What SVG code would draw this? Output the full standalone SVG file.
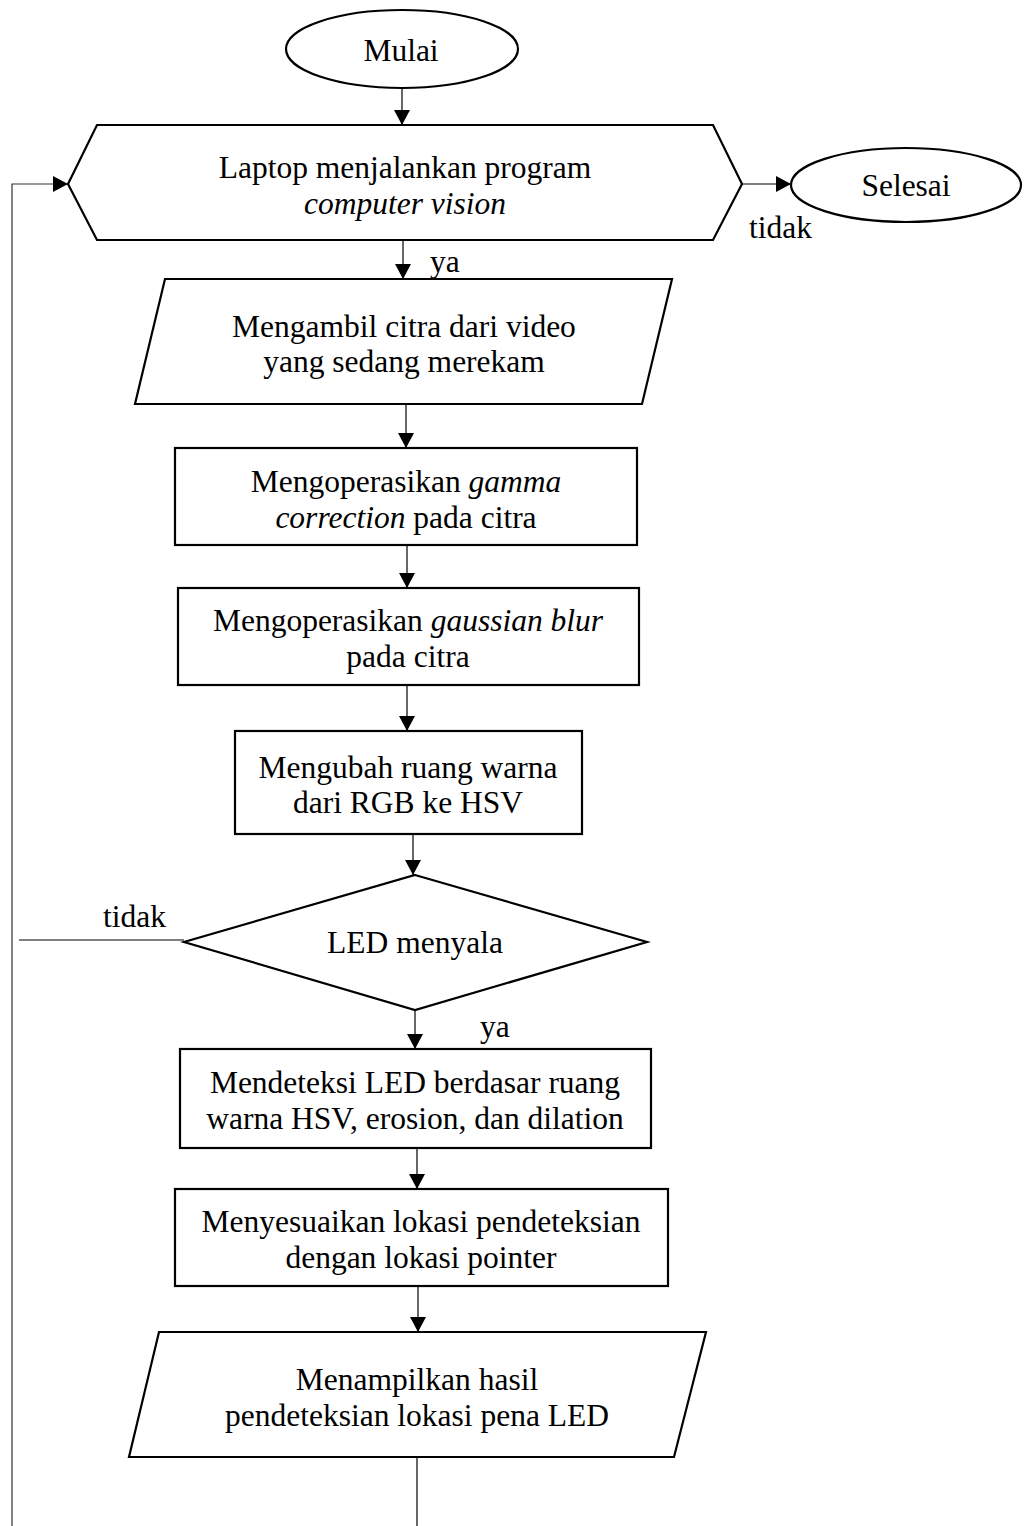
<svg xmlns="http://www.w3.org/2000/svg" width="1027" height="1526" viewBox="0 0 1027 1526">
  <style>
    .shape { fill: #ffffff; stroke: #000000; stroke-width: 2.2; stroke-linejoin: miter; }
    .link { fill: none; stroke: #000000; stroke-width: 1.2; }
    .loop { fill: none; stroke: #333333; stroke-width: 1.2; }
    text { font-family: "Liberation Serif", "Times New Roman", serif; font-size: 31.5px; fill: #000000; }
    .c { text-anchor: middle; }
    .i { font-style: italic; }
  </style>
  <defs>
    <marker id="arrow" viewBox="0 0 15 16" refX="15" refY="8" markerWidth="15" markerHeight="16" markerUnits="userSpaceOnUse" orient="auto">
      <path d="M0,0 L15,8 L0,16 Z" fill="#000000"/>
    </marker>
  </defs>

  <rect x="0" y="0" width="1027" height="1526" fill="#ffffff"/>

  <!-- connectors -->
  <g id="connectors">
    <line class="link" x1="402" y1="88" x2="402" y2="125" marker-end="url(#arrow)"/>
    <line class="link" x1="742" y1="184" x2="791" y2="184" marker-end="url(#arrow)"/>
    <line class="link" x1="403" y1="240" x2="403" y2="279" marker-end="url(#arrow)"/>
    <line class="link" x1="406" y1="404" x2="406" y2="448" marker-end="url(#arrow)"/>
    <line class="link" x1="407" y1="545" x2="407" y2="588" marker-end="url(#arrow)"/>
    <line class="link" x1="407" y1="685" x2="407" y2="731" marker-end="url(#arrow)"/>
    <line class="link" x1="413" y1="834" x2="413" y2="875" marker-end="url(#arrow)"/>
    <line class="link" x1="415" y1="1010" x2="415" y2="1049" marker-end="url(#arrow)"/>
    <line class="link" x1="417" y1="1148" x2="417" y2="1189" marker-end="url(#arrow)"/>
    <line class="link" x1="418" y1="1286" x2="418" y2="1332" marker-end="url(#arrow)"/>
    <line class="link" x1="417" y1="1457" x2="417" y2="1526"/>
    <!-- "tidak" branch of the decision back to the loop -->
    <line class="link" x1="184" y1="940" x2="19" y2="940"/>
    <polyline class="loop" points="12,1526 12,184 68,184" marker-end="url(#arrow)"/>
    <text x="749" y="238">tidak</text>
    <text x="430" y="272">ya</text>
    <text x="103" y="927">tidak</text>
    <text x="480" y="1037">ya</text>
  </g>

  <g id="mulai">
    <ellipse class="shape" cx="402" cy="49" rx="116" ry="39"/>
    <text class="c" x="401" y="61">Mulai</text>
  </g>

  <g id="laptop">
    <polygon class="shape" points="97,125 713,125 742,184 713,240 97,240 68,184"/>
    <text class="c" x="405" y="178">Laptop menjalankan program</text>
    <text class="c i" x="405" y="214">computer vision</text>
  </g>

  <g id="selesai">
    <ellipse class="shape" cx="906" cy="185" rx="115" ry="37"/>
    <text class="c" x="906" y="196">Selesai</text>
  </g>

  <g id="ambil-citra">
    <polygon class="shape" points="165,279 672,279 642,404 135,404"/>
    <text class="c" x="404" y="337">Mengambil citra dari video</text>
    <text class="c" x="404" y="372">yang sedang merekam</text>
  </g>

  <g id="gamma">
    <rect class="shape" x="175" y="448" width="462" height="97"/>
    <text class="c" x="406" y="492">Mengoperasikan <tspan class="i">gamma</tspan></text>
    <text class="c" x="406" y="528"><tspan class="i">correction</tspan> pada citra</text>
  </g>

  <g id="gaussian">
    <rect class="shape" x="178" y="588" width="461" height="97"/>
    <text class="c" x="408" y="631">Mengoperasikan <tspan class="i">gaussian blur</tspan></text>
    <text class="c" x="408" y="667">pada citra</text>
  </g>

  <g id="hsv">
    <rect class="shape" x="235" y="731" width="347" height="103"/>
    <text class="c" x="408" y="778">Mengubah ruang warna</text>
    <text class="c" x="408" y="813">dari RGB ke HSV</text>
  </g>

  <g id="led-menyala">
    <polygon class="shape" points="415,875 647,942 415,1010 184,942"/>
    <text class="c" x="415" y="953">LED menyala</text>
  </g>

  <g id="deteksi">
    <rect class="shape" x="180" y="1049" width="471" height="99"/>
    <text class="c" x="415" y="1093">Mendeteksi LED berdasar ruang</text>
    <text class="c" x="415" y="1129">warna HSV, erosion, dan dilation</text>
  </g>

  <g id="sesuaikan">
    <rect class="shape" x="175" y="1189" width="493" height="97"/>
    <text class="c" x="421" y="1232">Menyesuaikan lokasi pendeteksian</text>
    <text class="c" x="421" y="1268">dengan lokasi pointer</text>
  </g>

  <g id="tampilkan">
    <polygon class="shape" points="159,1332 706,1332 674,1457 129,1457"/>
    <text class="c" x="417" y="1390">Menampilkan hasil</text>
    <text class="c" x="417" y="1426">pendeteksian lokasi pena LED</text>
  </g>
</svg>
